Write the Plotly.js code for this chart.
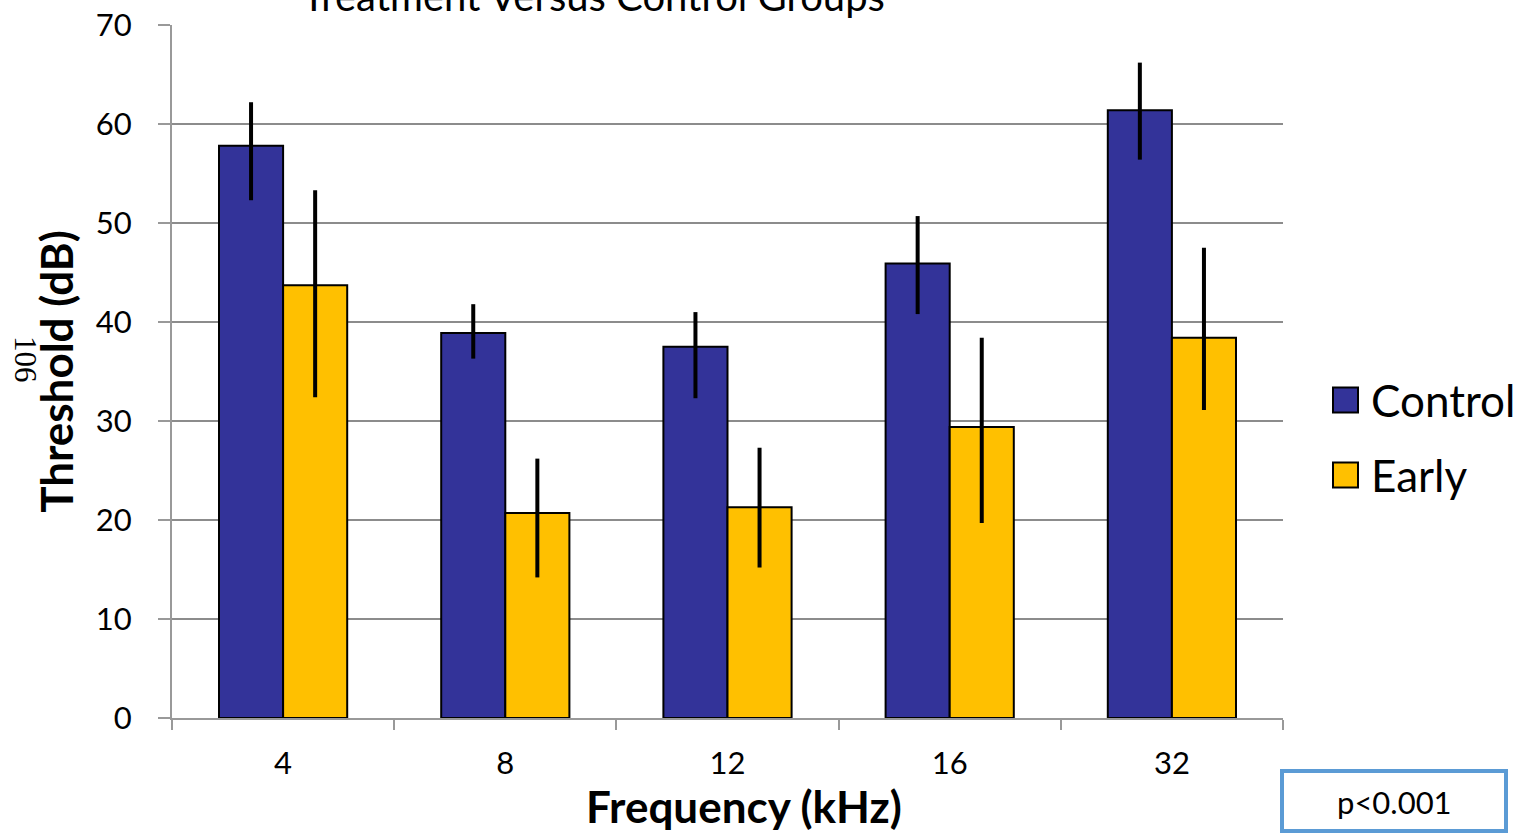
<!DOCTYPE html>
<html>
<head>
<meta charset="utf-8">
<script src="https://cdn.plot.ly/plotly-3.0.1.min.js"></script>
<style>
  html, body { margin: 0; padding: 0; background: #fff; }
  #chart { width: 1524px; height: 833px; }
</style>
</head>
<body>
<div id="chart"></div>
<script>
// Hearing thresholds by frequency, control versus early treatment
const frequencies = ['4', '8', '12', '16', '32'];
const seriesNames = ['Control', 'Early'];
const controlMean = [57.8, 38.9, 37.5, 45.9, 61.4];
const controlErrPlus = [4.4, 2.9, 3.5, 4.8, 4.8];
const controlErrMinus = [5.5, 2.6, 5.2, 5.1, 5.0];
const earlyMean = [43.7, 20.7, 21.3, 29.4, 38.4];
const earlyErrPlus = [9.6, 5.5, 6.0, 9.0, 9.1];
const earlyErrMinus = [11.3, 6.5, 6.1, 9.7, 7.3];
const seriesColors = ['#333399', '#FFC000'];
const yTicks = [0, 10, 20, 30, 40, 50, 60, 70];

const W = 1524, H = 833;
const M = { l: 172, r: 241, t: 25, b: 115 };
const plotW = W - M.l - M.r, plotH = H - M.t - M.b;
// pixel -> paper coordinate helpers for decorations
const px = x => (x - M.l) / plotW;
const py = y => (H - M.b - y) / plotH;

const FONT = 'Lato, "Open Sans", sans-serif';

function barTrace(name, means, plus, minus, color) {
  return {
    type: 'bar', name: name, x: frequencies, y: means,
    marker: { color: color, line: { color: '#000', width: 2 } },
    error_y: { type: 'data', symmetric: false, array: plus, arrayminus: minus,
               color: '#000', thickness: 4, width: 0 },
    showlegend: false, hoverinfo: 'x+y'
  };
}

const data = [
  barTrace(seriesNames[0], controlMean, controlErrPlus, controlErrMinus, seriesColors[0]),
  barTrace(seriesNames[1], earlyMean, earlyErrPlus, earlyErrMinus, seriesColors[1])
];

// Legend drawn as swatches plus labels on the right
const shapes = [];
const annotations = [];
const legendRows = [400, 475];
seriesNames.forEach((n, i) => {
  const cy = legendRows[i];
  shapes.push({ type: 'rect', xref: 'paper', yref: 'paper',
    x0: px(1333), x1: px(1358), y0: py(cy - 12.5), y1: py(cy + 12.5),
    fillcolor: seriesColors[i], line: { color: '#000', width: 2 } });
  annotations.push({ xref: 'paper', yref: 'paper', x: px(1369), y: py(cy),
    xanchor: 'left', yanchor: 'middle', text: n, showarrow: false,
    font: { family: FONT, size: 44, color: '#000' } });
});

// Significance box
shapes.push({ type: 'rect', xref: 'paper', yref: 'paper',
  x0: px(1282), x1: px(1506), y0: py(771), y1: py(831),
  fillcolor: 'rgba(0,0,0,0)', line: { color: '#5B9BD5', width: 4 } });
annotations.push({ xref: 'paper', yref: 'paper', x: px(1394), y: py(802),
  xanchor: 'center', yanchor: 'middle', text: 'p<0.001', showarrow: false,
  font: { family: FONT, size: 31, color: '#000' } });

// Chart title, running off the top edge
annotations.push({ xref: 'paper', yref: 'paper', x: px(593), y: py(-4),
  xanchor: 'center', yanchor: 'middle', text: 'Treatment Versus Control Groups',
  showarrow: false, font: { family: FONT, size: 40, color: '#000' } });

// X axis title, set slightly right of the plot centre
annotations.push({ xref: 'paper', yref: 'paper', x: px(744), y: py(806),
  xanchor: 'center', yanchor: 'middle', text: '<b>Frequency (kHz)</b>',
  showarrow: false, font: { family: FONT, size: 44, color: '#000' } });

// Page number in the margin
annotations.push({ xref: 'paper', yref: 'paper', x: px(26), y: py(360),
  xanchor: 'center', yanchor: 'middle', text: '106', textangle: 90,
  showarrow: false, font: { family: '"Liberation Serif", serif', size: 31, color: '#000' } });

const layout = {
  width: W, height: H,
  margin: M,
  paper_bgcolor: '#fff', plot_bgcolor: '#fff',
  barmode: 'group', bargap: 0.423, bargroupgap: 0,
  font: { family: FONT, color: '#000' },
  xaxis: {
    type: 'category', tickson: 'boundaries', ticks: 'outside', ticklen: 10,
    tickwidth: 2, tickcolor: '#999', ticklabelstandoff: 17,
    showline: true, linecolor: '#999', linewidth: 2,
    showgrid: false, zeroline: false,
    tickfont: { family: FONT, size: 31, color: '#000' }
  },
  yaxis: {
    range: [0, 70], tickvals: yTicks, ticktext: yTicks.map(String),
    ticks: 'outside', ticklen: 12, tickwidth: 2, tickcolor: '#999',
    ticklabelstandoff: 20,
    showline: true, linecolor: '#999', linewidth: 2,
    showgrid: true, gridcolor: '#8c8c8c', gridwidth: 2, zeroline: false,
    tickfont: { family: FONT, size: 31, color: '#000' },
    title: { text: '<b>Threshold (dB)</b>', standoff: 8,
             font: { family: FONT, size: 44, color: '#000' } }
  },
  shapes: shapes,
  annotations: annotations
};

Plotly.newPlot('chart', data, layout, { displayModeBar: false, staticPlot: true });
</script>
</body>
</html>
